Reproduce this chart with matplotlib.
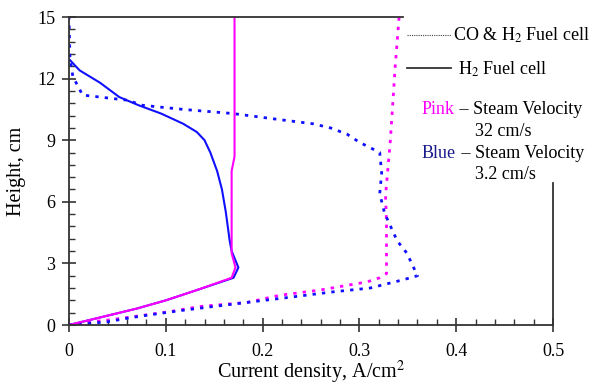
import matplotlib
matplotlib.use("Agg")
import matplotlib.pyplot as plt
from matplotlib.lines import Line2D
from matplotlib.ticker import MultipleLocator

plt.rcParams['font.family'] = ['Liberation Serif', 'DejaVu Serif']
plt.rcParams['mathtext.fontset'] = 'stix'

# H2 fuel cell, steam velocity 32 cm/s (pink solid)
h2_pink_x = [0, 0.035, 0.070, 0.100, 0.132, 0.168, 0.172, 0.168, 0.168, 0.168, 0.171, 0.171]
h2_pink_h = [0, 0.4, 0.8, 1.2, 1.7, 2.3, 2.8, 3.5, 5.0, 7.5, 8.2, 15.0]

# H2 fuel cell, steam velocity 3.2 cm/s (blue solid)
h2_blue_x = [0, 0.035, 0.070, 0.100, 0.132, 0.170, 0.175, 0.168, 0.166, 0.162, 0.158,
             0.153, 0.146, 0.140, 0.132, 0.118, 0.095, 0.072, 0.052, 0.032, 0.011, 0.001]
h2_blue_h = [0, 0.4, 0.8, 1.2, 1.7, 2.3, 2.8, 3.6, 4.1, 5.5, 6.6,
             7.5, 8.4, 9.0, 9.4, 9.8, 10.3, 10.7, 11.1, 11.8, 12.4, 12.9]

# CO & H2 fuel cell, 32 cm/s (pink dotted)
co_pink_x = [0, 0.022, 0.042, 0.073, 0.104, 0.135, 0.184, 0.218, 0.259, 0.308,
             0.321, 0.328, 0.328, 0.327, 0.332, 0.337, 0.341]
co_pink_h = [0, 0.15, 0.25, 0.45, 0.65, 0.9, 1.1, 1.45, 1.7, 2.1,
             2.3, 2.5, 5.0, 6.3, 9.0, 12.6, 15.0]

# CO & H2 fuel cell, 3.2 cm/s (blue dotted)
co_blue_x = [0, 0.039, 0.063, 0.084, 0.115, 0.149, 0.184, 0.228, 0.270, 0.311, 0.345,
             0.360, 0.349, 0.339, 0.326, 0.321, 0.323, 0.321, 0.300, 0.287, 0.270,
             0.252, 0.218, 0.169, 0.118, 0.076, 0.060, 0.032, 0.014, 0.004, 0.001, 0.0]
co_blue_h = [0, 0.15, 0.35, 0.5, 0.7, 0.9, 1.1, 1.35, 1.6, 1.8, 2.2,
             2.4, 3.5, 4.1, 5.45, 6.4, 7.4, 8.4, 8.9, 9.3, 9.6,
             9.8, 10.0, 10.3, 10.5, 10.7, 10.95, 11.1, 11.2, 12.1, 13.0, 15.0]

PINK = '#ff00ff'
BLUE = '#1010ff'
DOTS = (0, (1.2, 2.2))

fig = plt.figure(figsize=(5.93, 3.86), dpi=100)
ax = fig.add_axes([69 / 593, 1 - 325 / 386, (553 - 69) / 593, (325 - 17) / 386])

ax.plot(co_pink_x, co_pink_h, color=PINK, lw=2.0, ls=DOTS)
ax.plot(co_blue_x, co_blue_h, color=BLUE, lw=2.0, ls=DOTS)
ax.plot(h2_blue_x, h2_blue_h, color=BLUE, lw=1.5)
ax.plot(h2_pink_x, h2_pink_h, color=PINK, lw=1.5)

ax.set_xlim(0, 0.5)
ax.set_ylim(0, 15)
ax.xaxis.set_major_locator(MultipleLocator(0.1))
ax.xaxis.set_minor_locator(MultipleLocator(0.02))
ax.yaxis.set_major_locator(MultipleLocator(3))
ax.yaxis.set_minor_locator(MultipleLocator(0.6))
ax.xaxis.set_major_formatter(plt.FuncFormatter(lambda v, p: '0' if v == 0 else f'{v:g}'))

spc = '#333333'
for s in ax.spines.values():
    s.set_color(spc)
    s.set_linewidth(1.3)
ax.spines['top'].set_bounds(0, 0.345)
ax.spines['right'].set_bounds(0, 6.9)
ax.tick_params(which='major', direction='inout', length=10, width=1.2, color=spc,
               labelsize=13)
ax.tick_params(axis='x', which='major', pad=8)
ax.tick_params(axis='y', which='major', pad=5)
ax.tick_params(which='minor', direction='in', length=4, width=1.0, color=spc)
ax.tick_params(top=False, right=False, which='both')

ax.set_xlabel('Current density, A/cm$^2$', fontsize=14.5, labelpad=-1)
ax.set_ylabel('Height, cm', fontsize=14.5, labelpad=8)

# legend drawn by hand, outside the curves
def fx(px):
    return px / 593

def fy(py):
    return 1 - py / 386

fig.add_artist(Line2D([fx(407), fx(451)], [fy(35), fy(35)], color='#444444', lw=0.8, ls=(0, (1, 1))))
fig.add_artist(Line2D([fx(407), fx(451)], [fy(68), fy(68)], color='#333333', lw=1.3))
fig.text(fx(453), fy(35), 'CO & H$_2$ Fuel cell', fontsize=13, va='center', ha='left')
fig.text(fx(458), fy(69), 'H$_2$ Fuel cell', fontsize=13, va='center', ha='left')

fig.text(fx(422), fy(110), 'Pink', fontsize=13, color=PINK, va='center', ha='left')
fig.text(fx(455), fy(110), ' \u2013 Steam Velocity', fontsize=13, va='center', ha='left')
fig.text(fx(475), fy(131), '32 cm/s', fontsize=13, va='center', ha='left')
fig.text(fx(422), fy(153), 'Blue', fontsize=13, color='#1a1a8c', va='center', ha='left')
fig.text(fx(457), fy(153), ' \u2013 Steam Velocity', fontsize=13, va='center', ha='left')
fig.text(fx(475), fy(174), '3.2 cm/s', fontsize=13, va='center', ha='left')

fig.savefig('out.png', dpi=100)
